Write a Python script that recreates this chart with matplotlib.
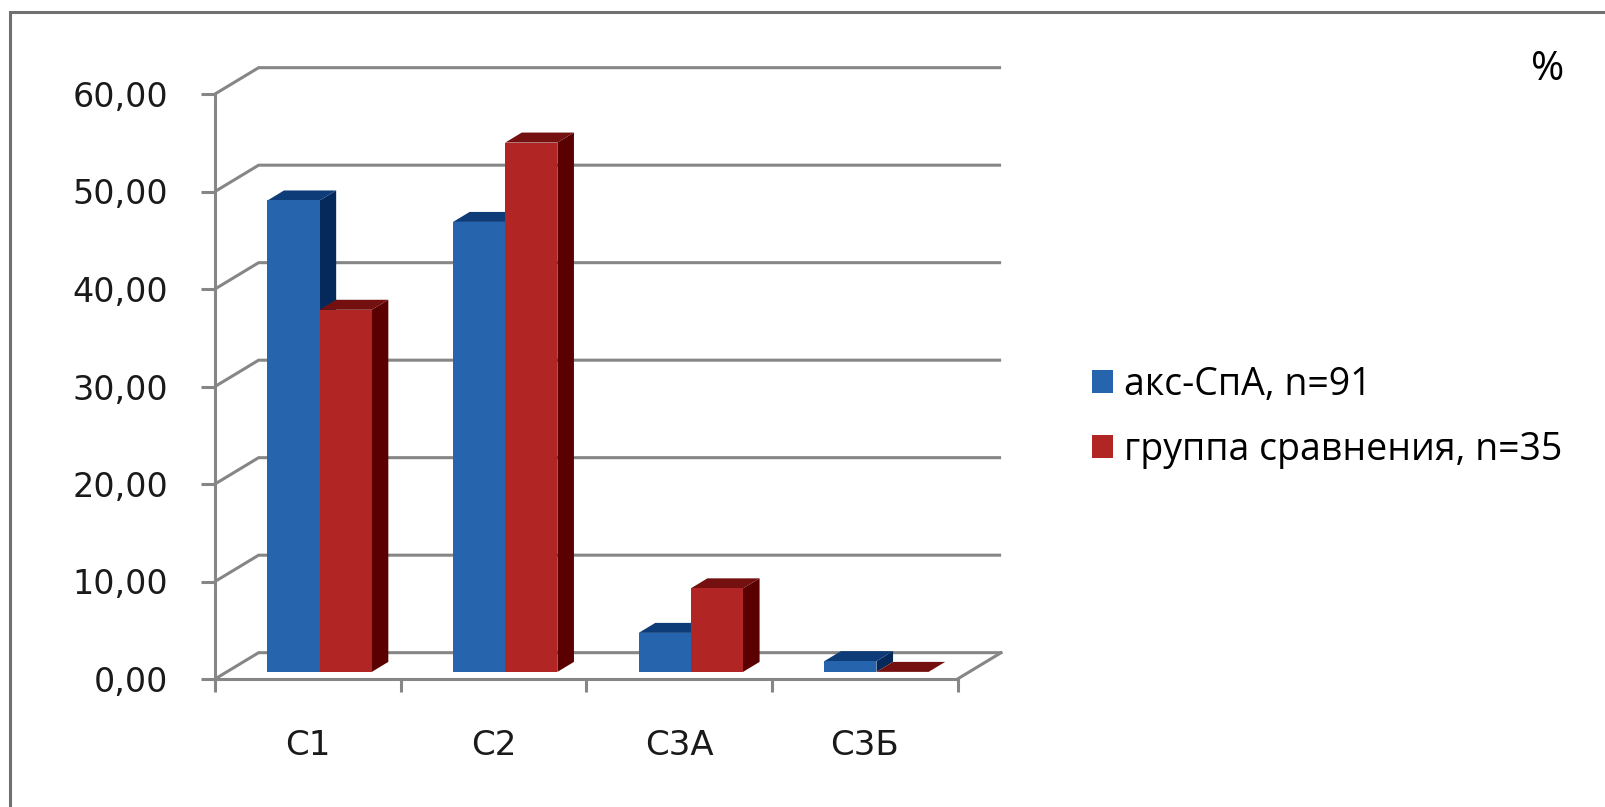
import matplotlib.pyplot as plt
from matplotlib.patches import Polygon, Rectangle

categories = ['С1', 'С2', 'С3А', 'С3Б']
series_names = ['акс-СпА, n=91', 'группа сравнения, n=35']
aks_spa = [48.35, 46.15, 4.0, 1.1]
comparison = [37.14, 54.29, 8.57, 0.0]
y_ticks = [0, 10, 20, 30, 40, 50, 60]

# front, top and side shades for each series
shades = [
    ('#2764ae', '#0e3c79', '#05295b'),
    ('#b22525', '#741010', '#5b0000'),
]
grid_color = '#868686'
lw = 2.2

# oblique depth of the plot box, in data units
DX, DY = 0.235, 2.7
# bars sit between these fractions of the depth
D0, D1 = 0.27, 0.65
bar_w = 0.281

fig = plt.figure(figsize=(16.06, 8.07), dpi=100)
ax = fig.add_axes([215 / 1606, (807 - 679) / 807, 742.5 / 1606, 585 / 807])
ax.set_xlim(-0.5, len(categories) - 0.5)
ax.set_ylim(0, 60)

# walls: gridlines on the back wall joined to the front axis by diagonals
x_lo, x_hi = -0.5, len(categories) - 0.5
for t in y_ticks:
    ax.plot([x_lo, x_lo + DX, x_hi + DX], [t, t + DY, t + DY],
            color=grid_color, lw=lw, clip_on=False, zorder=1,
            solid_capstyle='butt', solid_joinstyle='miter')
ax.plot([x_hi, x_hi + DX], [0, DY], color=grid_color, lw=lw,
        clip_on=False, zorder=1)

for s, vals in enumerate([aks_spa, comparison]):
    front, top, side = shades[s]
    for i, v in enumerate(vals):
        x0 = i - bar_w + s * bar_w
        x1 = x0 + bar_w
        sidepts = [(x1 + D0 * DX, D0 * DY), (x1 + D0 * DX, v + D0 * DY),
                   (x1 + D1 * DX, v + D1 * DY), (x1 + D1 * DX, D1 * DY)]
        toppts = [(x0 + D0 * DX, v + D0 * DY), (x1 + D0 * DX, v + D0 * DY),
                  (x1 + D1 * DX, v + D1 * DY), (x0 + D1 * DX, v + D1 * DY)]
        ax.add_patch(Polygon(sidepts, closed=True, facecolor=side,
                             edgecolor='none', clip_on=False, zorder=2 + s))
        ax.add_patch(Polygon(toppts, closed=True, facecolor=top,
                             edgecolor='none', clip_on=False, zorder=2 + s))
    ax.bar([i - bar_w / 2 + s * bar_w + D0 * DX for i in range(len(vals))],
           vals, width=bar_w, bottom=D0 * DY, color=front,
           label=series_names[s], zorder=2 + s, clip_on=False)

for side in ['top', 'right']:
    ax.spines[side].set_visible(False)
for side in ['left', 'bottom']:
    ax.spines[side].set_color(grid_color)
    ax.spines[side].set_linewidth(lw)
    ax.spines[side].set_zorder(5)

ax.set_yticks(y_ticks)
ax.set_yticklabels([f'{t:.2f}'.replace('.', ',') for t in y_ticks])
ax.tick_params(axis='y', direction='out', length=10, width=lw,
               color=grid_color, pad=24, labelsize=24, labelcolor='#1a1a1a')

ax.set_xticks([b - 0.5 for b in range(len(categories) + 1)])
ax.set_xticklabels([])
ax.set_xticks(range(len(categories)), minor=True)
ax.set_xticklabels(categories, minor=True)
ax.tick_params(axis='x', which='major', direction='out', length=9,
               width=lw, color=grid_color)
ax.tick_params(axis='x', which='minor', length=0, pad=36, labelsize=24.5,
               labelcolor='#1a1a1a')

leg = ax.legend(loc='upper left', bbox_to_anchor=(1092 / 1606, 1 - 366 / 807),
                bbox_transform=fig.transFigure, frameon=False,
                prop={'family': ['Open Sans', 'DejaVu Sans'], 'size': 27},
                handlelength=0.55, handleheight=0.55, handletextpad=0.3,
                labelspacing=0.72, borderaxespad=0, borderpad=0)

fig.text(1548 / 1606, 1 - 70 / 807, '%', ha='center', va='center',
         fontsize=29, family=['Open Sans', 'DejaVu Sans'], color='black')

# chart frame, cut off at the right and bottom
fig.add_artist(Rectangle((10 / 1606, -0.1), 1.2, 1.1 - 12 / 807,
                         transform=fig.transFigure, fill=False,
                         edgecolor='#707070', lw=2.2))

fig.savefig('out.png', dpi=100)
